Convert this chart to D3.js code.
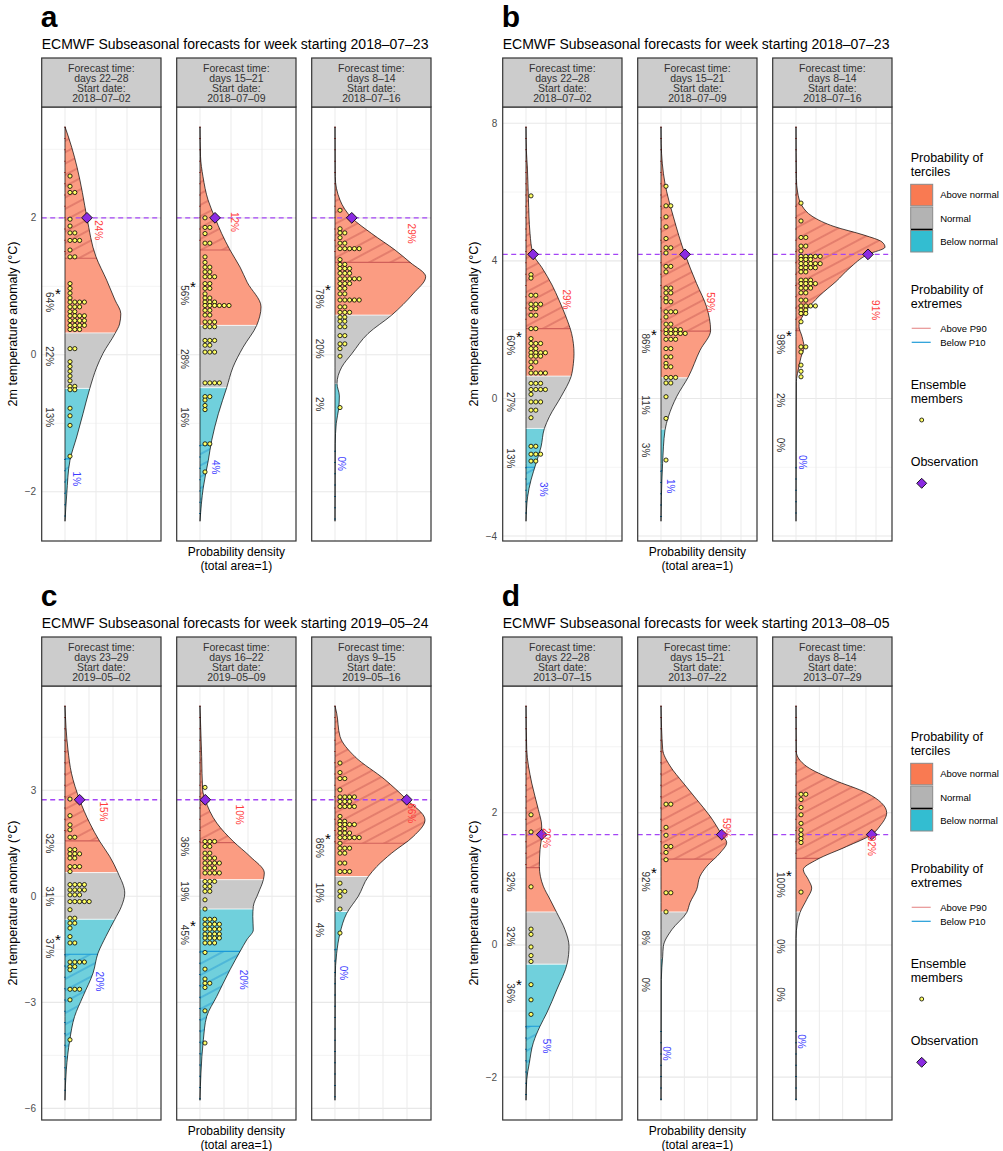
<!DOCTYPE html>
<html>
<head>
<meta charset="utf-8">
<script src="https://cdn.jsdelivr.net/npm/d3@7/dist/d3.min.js"></script>
<style>
  body { margin: 0; background: #fff; }
  svg { font-family: "Liberation Sans", Arial, sans-serif; }
</style>
</head>
<body>
<script>
// ---- data ---------------------------------------------------------------

const panelLetters = ["a", "b", "c", "d"];
const weekStarts = ["2018–07–23", "2018–07–23", "2019–05–24", "2013–08–05"];
const leadTimes = [
  ["days 22–28", "days 15–21", "days 8–14"],
  ["days 22–28", "days 15–21", "days 8–14"],
  ["days 23–29", "days 16–22", "days 9–15"],
  ["days 22–28", "days 15–21", "days 8–14"]
];
const startDates = [
  ["2018–07–02", "2018–07–09", "2018–07–16"],
  ["2018–07–02", "2018–07–09", "2018–07–16"],
  ["2019–05–02", "2019–05–09", "2019–05–16"],
  ["2013–07–15", "2013–07–22", "2013–07–29"]
];
const observations = [2.0, 4.19, 2.73, 1.67];
const tempRanges = [[-2.43, 3.33], [-3.57, 7.9], [-5.77, 5.39], [-2.35, 3.62]];
const yMajorTicks = [[-2, 0, 2], [-4, 0, 4, 8], [-6, -3, 0, 3], [-2, 0, 2]];
const yMinorTicks = [[-1, 1, 3], [-2, 2, 6], [-4.5, -1.5, 1.5, 4.5], [-1, 1, 3]];
const densityDomains = [[-0.188, 0.774], [-0.1165, 0.48], [-0.097, 0.4], [-0.25, 1.029]];
const densityGrid = [[0, 0.25, 0.5], [0, 0.1, 0.2, 0.3, 0.4], [0, 0.1, 0.2, 0.3], [0, 0.25, 0.5, 0.75]];

// density curves: [temperature, density]
const densityA1 = [[3.33,0],[3.03,0.054],[2.74,0.097],[2.37,0.14],[2.0,0.177],[1.43,0.25],[1.09,0.336],[0.8,0.403],[0.6,0.45],[0.45,0.44],[0.31,0.403],[0.02,0.306],[-0.18,0.256],[-0.49,0.2],[-0.86,0.145],[-1.2,0.094],[-1.54,0.04],[-2.03,0.014],[-2.43,0]];
const densityA2 = [[3.33,0],[2.9,0.004],[2.6,0.024],[2.26,0.065],[2.0,0.121],[1.77,0.175],[1.53,0.242],[1.28,0.323],[1.06,0.38],[0.7,0.492],[0.43,0.457],[0.11,0.347],[-0.18,0.266],[-0.48,0.215],[-0.86,0.148],[-1.25,0.094],[-1.54,0.067],[-1.93,0.027],[-2.43,0]];
const densityA3 = [[3.33,0],[2.6,0.002],[2.26,0.04],[2.0,0.135],[1.77,0.296],[1.53,0.484],[1.35,0.605],[1.14,0.731],[0.89,0.629],[0.58,0.457],[0.31,0.266],[0.02,0.137],[-0.18,0.054],[-0.42,0.016],[-0.6,0.035],[-0.78,0.03],[-1.0,0.01],[-1.3,0.002],[-2.43,0]];
const densityB1 = [[7.9,0],[7.2,0.002],[6.7,0.007],[5.8,0.012],[4.8,0.02],[4.2,0.035],[3.8,0.08],[3.3,0.13],[2.86,0.165],[2.37,0.2],[1.89,0.228],[1.3,0.24],[1.02,0.237],[0.63,0.225],[0.05,0.175],[-0.53,0.117],[-0.87,0.092],[-1.41,0.075],[-1.89,0.05],[-2.37,0.025],[-2.86,0.008],[-3.57,0]];
const densityB2 = [[7.9,0],[7.4,0.001],[6.25,0.02],[5.28,0.062],[4.19,0.12],[3.34,0.178],[2.66,0.228],[1.98,0.248],[1.4,0.195],[0.63,0.137],[0.05,0.078],[-0.53,0.037],[-0.92,0.02],[-1.89,0.008],[-2.86,0.002],[-3.57,0]];
const densityB3 = [[7.9,0],[6.4,0.002],[6.0,0.008],[5.6,0.03],[5.3,0.08],[5.0,0.19],[4.75,0.34],[4.55,0.43],[4.4,0.445],[4.19,0.36],[3.8,0.27],[3.4,0.2],[3.0,0.12],[2.5,0.045],[2.1,0.015],[1.8,0.03],[1.5,0.04],[1.2,0.025],[0.8,0.01],[0.5,0.002],[-3.57,0]];
const densityC1 = [[5.39,0],[4.14,0.0125],[3.48,0.027],[2.73,0.061],[2.07,0.103],[1.55,0.145],[1.13,0.186],[0.66,0.221],[0.09,0.249],[-0.29,0.235],[-0.66,0.207],[-1.14,0.17],[-1.61,0.1375],[-2.17,0.117],[-2.83,0.075],[-3.4,0.04],[-4.06,0.02],[-4.91,0.0055],[-5.77,0]];
const densityC2 = [[5.39,0],[3.95,0.007],[3.01,0.011],[2.73,0.022],[2.07,0.07],[1.55,0.139],[1.13,0.208],[0.66,0.268],[0.47,0.264],[0.09,0.243],[-0.29,0.222],[-0.57,0.22],[-0.95,0.222],[-1.23,0.195],[-1.56,0.167],[-2.08,0.125],[-2.83,0.07],[-3.4,0.028],[-4.06,0.014],[-5.0,0.004],[-5.77,0]];
const densityC3 = [[5.39,0],[5.18,0.007],[4.52,0.021],[3.95,0.083],[3.3,0.208],[2.75,0.296],[2.16,0.375],[1.69,0.326],[1.22,0.236],[0.84,0.174],[0.56,0.139],[0,0.097],[-0.48,0.049],[-1.04,0.021],[-1.61,0.007],[-2.3,0.001],[-5.77,0]];
const densityD1 = [[3.62,0],[2.96,0.0075],[2.45,0.061],[2.05,0.132],[1.8,0.168],[1.67,0.168],[1.44,0.15],[1.19,0.143],[0.89,0.185],[0.69,0.257],[0.49,0.329],[0.23,0.418],[-0.02,0.461],[-0.27,0.443],[-0.68,0.329],[-1.03,0.222],[-1.23,0.15],[-1.48,0.078],[-1.79,0.035],[-2.04,0.0075],[-2.35,0]];
const densityD2 = [[3.62,0],[2.96,0.018],[2.71,0.096],[2.45,0.239],[2.2,0.383],[1.95,0.525],[1.67,0.651],[1.55,0.704],[1.39,0.632],[1.19,0.49],[1.04,0.418],[0.84,0.383],[0.64,0.311],[0.49,0.275],[0.23,0.115],[-0.02,0.025],[-0.17,0.018],[-0.52,0.003],[-2.35,0]];
const densityD3 = [[3.62,0],[2.93,0.003],[2.7,0.115],[2.5,0.4],[2.3,0.758],[2.0,0.972],[1.8,0.9],[1.67,0.811],[1.49,0.543],[1.29,0.222],[1.14,0.078],[0.99,0.132],[0.86,0.168],[0.69,0.115],[0.49,0.043],[0.33,0.014],[0.1,0],[-2.35,0]];

// ensemble members, one row per dot-plot bin: [temperature, count]
const membersA1 = [[2.61,1],[2.46,1],[2.37,2],[1.98,1],[1.88,1],[1.78,2],[1.67,3],[1.53,1],[1.43,2],[1.04,1],[0.97,1],[0.9,1],[0.83,1],[0.77,4],[0.7,3],[0.63,2],[0.57,4],[0.5,4],[0.43,4],[0.37,3],[0.09,2],[-0.1,1],[-0.17,1],[-0.24,1],[-0.31,1],[-0.38,1],[-0.46,2],[-0.51,2],[-0.78,1],[-0.89,1],[-1.03,1],[-1.48,1]];
const membersA2 = [[2.0,1],[1.86,2],[1.77,1],[1.63,2],[1.43,1],[1.35,1],[1.28,2],[1.21,2],[1.14,3],[1.04,2],[0.97,2],[0.89,1],[0.83,2],[0.77,3],[0.72,6],[0.65,2],[0.58,2],[0.48,3],[0.41,3],[0.21,3],[0.14,2],[0.04,3],[-0.41,4],[-0.61,2],[-0.66,1],[-0.74,1],[-0.8,1],[-1.3,2],[-1.71,1]];
const membersA3 = [[2.11,1],[1.84,1],[1.78,2],[1.71,1],[1.63,2],[1.55,5],[1.39,1],[1.32,2],[1.26,3],[1.19,3],[1.11,5],[1.04,3],[0.97,2],[0.89,2],[0.8,5],[0.7,2],[0.62,3],[0.55,2],[0.49,2],[0.41,2],[0.28,2],[0.16,2],[0.09,1],[-0.02,1],[-0.77,1]];
const membersB1 = [[5.89,1],[3.6,1],[3.5,1],[3.0,2],[2.74,3],[2.61,2],[2.42,2],[2.03,2],[1.74,1],[1.6,3],[1.45,2],[1.33,4],[1.23,3],[1.06,2],[0.9,1],[0.74,4],[0.44,3],[0.26,4],[0.12,1],[-0.1,3],[-0.34,2],[-0.56,1],[-1.39,2],[-1.62,3],[-1.82,2]];
const membersB2 = [[6.17,1],[5.6,2],[5.28,1],[4.99,1],[4.65,1],[4.38,2],[4.23,1],[3.84,2],[3.68,1],[3.21,2],[3.07,2],[2.92,1],[2.81,2],[2.52,3],[2.37,1],[2.16,2],[2.0,4],[1.89,5],[1.72,3],[1.45,2],[1.21,2],[1.02,1],[0.92,2],[0.61,3],[0.45,2],[0.05,1],[-0.58,1],[-1.79,1]];
const membersB3 = [[5.68,1],[5.16,1],[4.68,2],[4.43,2],[4.29,1],[4.13,5],[4.04,3],[3.92,5],[3.8,4],[3.68,2],[3.44,3],[3.34,4],[3.21,3],[3.07,2],[2.86,2],[2.69,4],[2.57,2],[2.47,2],[2.23,1],[1.5,2],[1.35,1],[0.97,1],[0.79,1],[0.63,1]];
const membersC1 = [[2.75,1],[2.28,1],[2.02,1],[1.88,1],[1.67,2],[1.32,2],[1.2,3],[1.08,2],[0.84,3],[0.7,1],[0.33,4],[0.18,4],[0.04,3],[-0.15,5],[-0.38,1],[-0.62,2],[-0.76,2],[-0.9,1],[-1.14,1],[-1.32,2],[-1.86,4],[-1.99,2],[-2.08,1],[-2.63,3],[-2.93,1],[-4.06,1]];
const membersC2 = [[3.08,1],[1.55,3],[1.41,2],[1.22,2],[1.08,3],[0.94,4],[0.8,3],[0.66,4],[0.42,3],[0.28,2],[0.14,2],[-0.1,1],[-0.36,1],[-0.65,3],[-0.79,4],[-0.93,4],[-1.07,4],[-1.18,4],[-1.32,3],[-1.59,1],[-2.06,1],[-2.34,1],[-2.46,2],[-2.58,1],[-3.24,1],[-4.15,1]];
const membersC3 = [[3.77,1],[3.5,1],[3.33,2],[3.01,1],[2.81,4],[2.68,3],[2.54,4],[2.26,1],[2.12,2],[2.03,4],[1.91,2],[1.79,3],[1.66,5],[1.5,1],[1.36,3],[1.22,2],[0.94,2],[0.7,3],[0.37,1],[0.14,2],[0.0,1],[-0.36,1],[-1.04,1]];
const membersD1 = [[1.97,1],[1.71,1],[0.88,1],[0.24,1],[0.16,1],[-0.03,1],[-0.16,1],[-0.25,1],[-0.6,1],[-0.83,1],[-1.05,1]];
const membersD2 = [[2.13,2],[1.78,1],[1.66,1],[1.49,2],[1.4,1],[1.29,1],[0.79,2],[0.5,1]];
const membersD3 = [[2.28,2],[2.2,1],[2.08,1],[1.97,1],[1.84,1],[1.74,1],[1.67,1],[1.61,1],[1.55,1],[0.8,1]];

const densities = [[densityA1, densityA2, densityA3], [densityB1, densityB2, densityB3],
                   [densityC1, densityC2, densityC3], [densityD1, densityD2, densityD3]];
const members = [[membersA1, membersA2, membersA3], [membersB1, membersB2, membersB3],
                 [membersC1, membersC2, membersC3], [membersD1, membersD2, membersD3]];

// tercile limits [upper, lower] and extremes [P90, P10]
const tercileBounds = [
  [[0.32, -0.49], [0.43, -0.48], [0.58, -0.42]],
  [[0.65, -0.87], [0.6, -0.89], [0.58, -0.9]],
  [[0.67, -0.65], [0.47, -0.36], [0.56, -0.43]],
  [[0.5, -0.29], [0.5, -0.2], [0.5, -0.2]]
];
const extremeBounds = [
  [[1.41, -1.52], [1.53, -1.32], [1.35, -1.4]],
  [[2.03, -2.0], [1.96, -2.1], [1.97, -2.0]],
  [[1.57, -1.64], [1.52, -1.56], [1.5, -1.5]],
  [[1.17, -1.23], [1.3, -1.3], [1.31, -1.3]]
];
// probabilities (%) [above, normal, below] and [>P90, <P10]
const tercilePct = [
  [[64, 22, 13], [56, 28, 16], [78, 20, 2]],
  [[60, 27, 13], [86, 11, 3], [98, 2, 0]],
  [[32, 31, 37], [36, 19, 45], [86, 10, 4]],
  [[32, 32, 36], [92, 8, 0], [100, 0, 0]]
];
const extremePct = [
  [[24, 1], [12, 4], [29, 0]],
  [[29, 3], [59, 1], [91, 0]],
  [[15, 20], [10, 20], [66, 0]],
  [[20, 5], [59, 0], [92, 0]]
];
// where the labels sit: tercile labels by temperature, extremes by [temperature, density]
const tercileLabelT = [
  [[0.77, -0.02, -0.91], [0.87, -0.06, -0.91], [0.82, 0.09, -0.72]],
  [[1.55, -0.1, -1.74], [1.6, -0.19, -1.5], [1.58, -0.05, -1.35]],
  [[1.5, 0, -1.47], [1.41, 0.14, -1.09], [1.37, 0.1, -0.95]],
  [[0.96, 0.13, -0.73], [0.96, 0.11, -0.6], [0.91, -0.02, -0.75]]
];
const p90LabelAt = [
  [[1.82, 0.268], [1.94, 0.282], [1.77, 0.613]],
  [[2.88, 0.2035], [2.8, 0.245], [2.57, 0.395]],
  [[2.4, 0.1625], [2.31, 0.1667], [2.35, 0.317]],
  [[1.62, 0.222], [1.77, 0.697], [1.5, 0.811]]
];
const p10LabelAt = [
  [[-1.81, 0.089], [-1.64, 0.121], [-1.59, 0.054]],
  [[-2.64, 0.0865], [-2.55, 0.045], [-1.85, 0.03]],
  [[-2.41, 0.145], [-2.36, 0.18], [-2.17, 0.035]],
  [[-1.53, 0.222], [-1.64, 0.061], [-1.46, 0.061]]
];

// ---- drawing ----------------------------------------------------------------

const svg = d3.select("body").append("svg").attr("width", 1003).attr("height", 1151);
const defs = svg.append("defs");

const fillAbove = "#fb9c82", fillNormal = "#c9c9c9", fillBelow = "#70d0dc";

function hatch(id, color) {
  defs.append("pattern").attr("id", id)
    .attr("patternUnits", "userSpaceOnUse").attr("width", 10).attr("height", 10)
    .attr("patternTransform", "rotate(-28)")
    .append("line").attr("x1", -1).attr("x2", 11).attr("y1", 5).attr("y2", 5)
    .attr("stroke", color).attr("stroke-width", 0.85);
}
hatch("hatchUp", "#c4554f");
hatch("hatchDown", "#1f95d2");

const panelOrigin = [[41.7, 0], [502.7, 0], [41.7, 579], [502.7, 579]];
const facetW = 119.3, facetStep = 135;

// x position on the drawn curve at a given temperature
function curveXAt(line, data, yPix) {
  const p = svg.append("path").attr("d", line(data)).attr("fill", "none");
  const node = p.node(), L = node.getTotalLength();
  let lo = 0, hi = L;
  for (let k = 0; k < 40; k++) {
    const mid = (lo + hi) / 2;
    if (node.getPointAtLength(mid).y < yPix) lo = mid; else hi = mid;
  }
  const xPix = node.getPointAtLength((lo + hi) / 2).x;
  p.remove();
  return xPix;
}

panelLetters.forEach((letter, p) => {
  const [ox, oy] = panelOrigin[p];
  const g = svg.append("g");

  g.append("text").attr("x", ox - 1).attr("y", oy + 27)
    .attr("font-size", 30).attr("font-weight", "bold").text(letter);
  g.append("text").attr("x", ox).attr("y", oy + 48.5)
    .attr("font-size", 14).text("ECMWF Subseasonal forecasts for week starting " + weekStarts[p]);

  const [tLo, tHi] = tempRanges[p];
  const pad = (tHi - tLo) * 0.05;
  const y = d3.scaleLinear().domain([tLo - pad, tHi + pad]).range([oy + 541, oy + 107]);

  // y axis
  yMajorTicks[p].forEach(t => {
    g.append("text").attr("x", ox - 5.5).attr("y", y(t)).attr("dy", "0.35em")
      .attr("text-anchor", "end").attr("font-size", 10).attr("fill", "#4d4d4d")
      .text(t < 0 ? "\u2212" + Math.abs(t) : t);
  });
  g.append("text")
    .attr("transform", `translate(${ox - 25},${oy + 324}) rotate(-90)`)
    .attr("text-anchor", "middle").attr("font-size", 12.5)
    .text("2m temperature anomaly (°C)");

  // x axis title
  const cx2 = ox + facetStep + facetW / 2;
  g.append("text").attr("x", cx2).attr("y", oy + 556).attr("text-anchor", "middle")
    .attr("font-size", 12).text("Probability density");
  g.append("text").attr("x", cx2).attr("y", oy + 570).attr("text-anchor", "middle")
    .attr("font-size", 12).text("(total area=1)");

  for (let f = 0; f < 3; f++) {
    const fx = ox + f * facetStep;
    const x = d3.scaleLinear().domain(densityDomains[p]).range([fx, fx + facetW]);
    const data = densities[p][f];
    const id = `f${p}${f}`;
    const fg = g.append("g");
    const top = oy + 107, bottom = oy + 541;

    fg.append("rect").attr("x", fx).attr("y", top).attr("width", facetW)
      .attr("height", bottom - top).attr("fill", "#fff");

    // grid
    yMinorTicks[p].forEach(t => fg.append("line").attr("x1", fx).attr("x2", fx + facetW)
      .attr("y1", y(t)).attr("y2", y(t)).attr("stroke", "#ededed").attr("stroke-width", 0.6));
    yMajorTicks[p].forEach(t => fg.append("line").attr("x1", fx).attr("x2", fx + facetW)
      .attr("y1", y(t)).attr("y2", y(t)).attr("stroke", "#e8e8e8").attr("stroke-width", 1.1));
    densityGrid[p].forEach(d => fg.append("line").attr("x1", x(d)).attr("x2", x(d))
      .attr("y1", top).attr("y2", bottom).attr("stroke", "#ebebeb").attr("stroke-width", 1));

    const area = d3.area().curve(d3.curveMonotoneY)
      .y(d => y(d[0])).x0(x(0)).x1(d => x(d[1]));
    const line = d3.line().curve(d3.curveMonotoneY)
      .y(d => y(d[0])).x(d => x(d[1]));
    const areaD = area(data);

    const [up, lowB] = tercileBounds[p][f];
    const [p90, p10] = extremeBounds[p][f];
    const [dTop, dBottom] = [y(tempRanges[p][1]), y(tempRanges[p][0])];
    const bands = [
      [id + "ab", top, y(up), fillAbove],
      [id + "no", y(up), y(lowB), fillNormal],
      [id + "be", y(lowB), bottom, fillBelow]
    ];
    bands.forEach(([bid, y0, y1, col]) => {
      defs.append("clipPath").attr("id", bid).append("rect")
        .attr("x", fx).attr("y", y0).attr("width", facetW).attr("height", y1 - y0);
      fg.append("path").attr("d", areaD).attr("fill", col).attr("clip-path", `url(#${bid})`);
    });
    defs.append("clipPath").attr("id", id + "p90").append("rect")
      .attr("x", fx).attr("y", top).attr("width", facetW).attr("height", y(p90) - top);
    defs.append("clipPath").attr("id", id + "p10").append("rect")
      .attr("x", fx).attr("y", y(p10)).attr("width", facetW).attr("height", bottom - y(p10));
    fg.append("path").attr("d", areaD).attr("fill", "url(#hatchUp)").attr("clip-path", `url(#${id}p90)`);
    fg.append("path").attr("d", areaD).attr("fill", "url(#hatchDown)").attr("clip-path", `url(#${id}p10)`);

    // hatch ends left on the zero line of thin tails
    fg.append("line").attr("x1", x(0)).attr("x2", x(0)).attr("y1", dTop).attr("y2", y(p90))
      .attr("stroke", "#d8625c").attr("stroke-width", 2).attr("stroke-dasharray", "1,10.3");
    fg.append("line").attr("x1", x(0)).attr("x2", x(0)).attr("y1", y(p10)).attr("y2", dBottom)
      .attr("stroke", "#1f9ad8").attr("stroke-width", 2).attr("stroke-dasharray", "1,10.3");

    // lines inside the density shape
    defs.append("clipPath").attr("id", id + "in").append("path").attr("d", areaD);
    const inner = fg.append("g").attr("clip-path", `url(#${id}in)`);
    [up, lowB].forEach(t => inner.append("line").attr("x1", fx).attr("x2", fx + facetW)
      .attr("y1", y(t)).attr("y2", y(t)).attr("stroke", "#fff").attr("stroke-width", 1).attr("opacity", 0.8));
    inner.append("line").attr("x1", fx).attr("x2", fx + facetW).attr("y1", y(p90)).attr("y2", y(p90))
      .attr("stroke", "#d0605a").attr("stroke-width", 1.2);
    inner.append("line").attr("x1", fx).attr("x2", fx + facetW).attr("y1", y(p10)).attr("y2", y(p10))
      .attr("stroke", "#1a9ad8").attr("stroke-width", 1.2);

    fg.append("path").attr("d", areaD).attr("fill", "none")
      .attr("stroke", "#000").attr("stroke-width", 0.7);

    // observation
    const yObs = y(observations[p]);
    fg.append("line").attr("x1", fx).attr("x2", fx + facetW).attr("y1", yObs).attr("y2", yObs)
      .attr("stroke", "#a445f5").attr("stroke-width", 1.3).attr("stroke-dasharray", "5,3.5");

    // ensemble members
    members[p][f].forEach(([t, n]) => {
      for (let i = 0; i < n; i++) {
        fg.append("circle").attr("cx", x(0) + 5 + i * 4.8).attr("cy", y(t)).attr("r", 2.1)
          .attr("fill", "#ffff66").attr("stroke", "#000").attr("stroke-width", 0.8);
      }
    });

    const xObs = curveXAt(line, data, yObs);
    fg.append("path").attr("d", d3.symbol(d3.symbolSquare, 58)())
      .attr("transform", `translate(${xObs},${yObs}) rotate(45)`)
      .attr("fill", "#8b2be2").attr("stroke", "#000").attr("stroke-width", 0.8);

    // percentages
    const lx = fx + 7.6;
    const pcts = tercilePct[p][f];
    const best = pcts.indexOf(d3.max(pcts));
    tercileLabelT[p][f].forEach((t, i) => {
      fg.append("text").attr("transform", `translate(${lx},${y(t)}) rotate(90)`)
        .attr("text-anchor", "middle").attr("dy", "0.35em").attr("font-size", 10)
        .attr("fill", "#333").text(pcts[i] + "%");
      if (i === best) {
        fg.append("text").attr("x", lx + 8.5).attr("y", y(t) - 12 + 8.5)
          .attr("text-anchor", "middle").attr("font-size", 15).attr("fill", "#000").text("*");
      }
    });
    const [ut, ud] = p90LabelAt[p][f];
    fg.append("text").attr("transform", `translate(${x(ud)},${y(ut)}) rotate(90)`)
      .attr("text-anchor", "middle").attr("dy", "0.35em").attr("font-size", 10)
      .attr("fill", "#ff3d3d").text(extremePct[p][f][0] + "%");
    const [bt, bd] = p10LabelAt[p][f];
    fg.append("text").attr("transform", `translate(${x(bd)},${y(bt)}) rotate(90)`)
      .attr("text-anchor", "middle").attr("dy", "0.35em").attr("font-size", 10)
      .attr("fill", "#3d3dff").text(extremePct[p][f][1] + "%");

    // border and strip
    fg.append("rect").attr("x", fx).attr("y", top).attr("width", facetW)
      .attr("height", bottom - top).attr("fill", "none").attr("stroke", "#333").attr("stroke-width", 1.2);
    fg.append("rect").attr("x", fx).attr("y", oy + 58).attr("width", facetW).attr("height", 49)
      .attr("fill", "#cccccc").attr("stroke", "#333").attr("stroke-width", 1.2);
    ["Forecast time:", leadTimes[p][f], "Start date:", startDates[p][f]].forEach((s, i) => {
      fg.append("text").attr("x", fx + facetW / 2).attr("y", oy + 71.8 + i * 10)
        .attr("text-anchor", "middle").attr("font-size", 10.5).attr("fill", "#333").text(s);
    });
  }

  // legend on the right-hand panels
  if (p % 2 === 1) {
    const lg = svg.append("g").attr("transform", `translate(910.7,${oy})`);
    const head = (txt, yy) => lg.append("text").attr("x", 0).attr("y", yy).attr("font-size", 12.5).text(txt);
    const item = (txt, yy) => lg.append("text").attr("x", 29.5).attr("y", yy).attr("dy", "0.35em")
      .attr("font-size", 9.5).text(txt);
    head("Probability of", 162); head("terciles", 176);
    [["#f97a52", 184.3], ["#b3b3b3", 207], ["#33bdd1", 230.5]].forEach(([c, yy]) => {
      lg.append("rect").attr("x", 0).attr("y", yy).attr("width", 22).attr("height", 21.5)
        .attr("fill", c).attr("stroke", "#8a8a8a").attr("stroke-width", 1);
    });
    lg.append("line").attr("x1", 0).attr("x2", 22).attr("y1", 229.5).attr("y2", 229.5)
      .attr("stroke", "#000").attr("stroke-width", 1.2);
    item("Above normal", 195); item("Normal", 218.5); item("Below normal", 241.5);
    head("Probability of", 293.5); head("extremes", 307.5);
    lg.append("line").attr("x1", 1).attr("x2", 20).attr("y1", 328.3).attr("y2", 328.3)
      .attr("stroke", "#e89494").attr("stroke-width", 1.2);
    lg.append("line").attr("x1", 1).attr("x2", 20).attr("y1", 342.3).attr("y2", 342.3)
      .attr("stroke", "#1e9bd7").attr("stroke-width", 1.2);
    item("Above P90", 328.3); item("Below P10", 342.3);
    head("Ensemble", 388.5); head("members", 402.5);
    lg.append("circle").attr("cx", 11).attr("cy", 420).attr("r", 2)
      .attr("fill", "#ffff66").attr("stroke", "#000").attr("stroke-width", 0.8);
    head("Observation", 466);
    lg.append("path").attr("d", d3.symbol(d3.symbolSquare, 50)())
      .attr("transform", "translate(11,483.3) rotate(45)")
      .attr("fill", "#8b2be2").attr("stroke", "#000").attr("stroke-width", 0.8);
  }
});
</script>
</body>
</html>
